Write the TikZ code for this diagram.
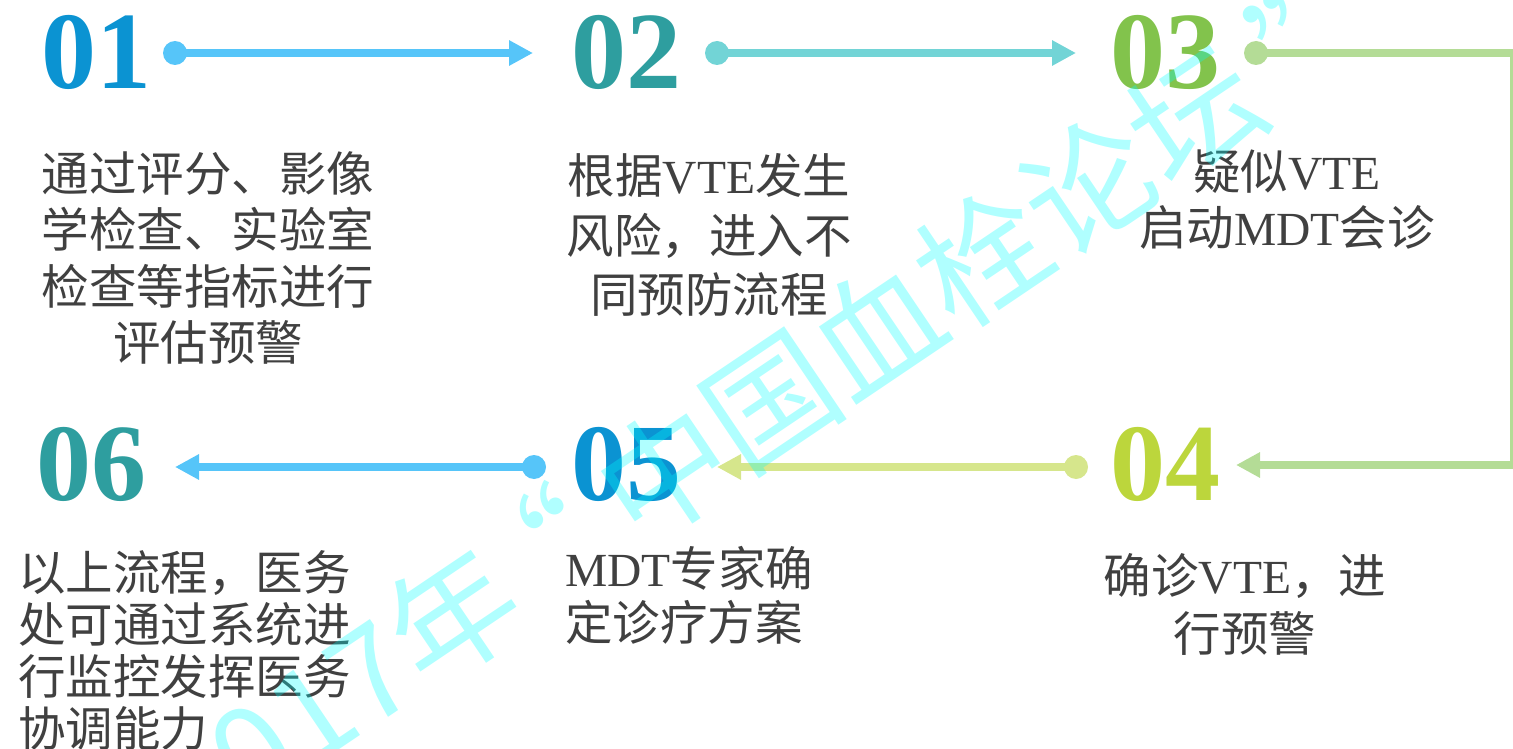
\documentclass[tikz,border=0pt]{standalone}
\usepackage{fontspec}
\setmainfont{Liberation Serif}
\newfontfamily\cjk{Noto Sans CJK SC}
\usetikzlibrary{arrows.meta}
\definecolor{txt}{HTML}{404040}
\definecolor{cblue}{HTML}{0B93D2}
\definecolor{cteal}{HTML}{2E9E9F}
\definecolor{cgreen}{HTML}{82C34C}
\definecolor{cyell}{HTML}{BCD63C}
\definecolor{lblue}{HTML}{56C5F9}
\definecolor{lteal}{HTML}{72D4D6}
\definecolor{lgreen}{HTML}{B4DC96}
\definecolor{lyell}{HTML}{D6E68C}
\definecolor{wmark}{RGB}{0,255,255}
\newcommand\latn[1]{{\rmfamily #1}}
\begin{document}
\begin{tikzpicture}[x=1pt,y=-1pt,
  num/.style={anchor=base west, inner sep=0, font=\fontsize{110}{110}\selectfont\bfseries},
  body/.style={inner sep=0, text=txt, font=\cjk\fontsize{47.5}{#1}\selectfont},
  dot/.style={circle, fill=#1, minimum size=24pt, inner sep=0},
  link/.style={draw=#1, line width=8pt, -{Triangle[length=24pt,width=24pt]}},
  bar/.style={draw=#1, line width=8pt}
]
\path[use as bounding box] (0,0) rectangle (1513,749);
\clip (0,0) rectangle (1513,749);

% digits
\node[num, text=cblue]  (n01) at (41,89)   {01};
\node[num, text=cteal]  (n02) at (571,89)  {02};
\node[num, text=cgreen] (n03) at (1110,89) {03};
\node[num, text=cyell]  (n04) at (1110,500) {04};
\node[num, text=cblue]  (n05) at (571,500) {05};
\node[num, text=cteal]  (n06) at (36,500)  {06};

% dots and tips
\node[dot=lblue]  (d1) at (175,53) {};
\node[dot=lteal]  (d2) at (717,53) {};
\node[dot=lgreen] (d3) at (1256,53) {};
\node[dot=lyell]  (d4) at (1076,467) {};
\node[dot=lblue]  (d5) at (534,467) {};
\coordinate (t1) at (533,53);
\coordinate (t2) at (1076,53);
\coordinate (c3a) at (1513,53);
\coordinate (c3b) at (1511.5,53);
\coordinate (c3c) at (1511.5,465);
\coordinate (c3d) at (1513,465);
\coordinate (t3) at (1236,465);
\coordinate (t4) at (717,467);
\coordinate (t5) at (175,467);

\draw[link=lblue] (d1.center) -- (t1);
\draw[link=lteal] (d2.center) -- (t2);
\draw[bar=lgreen] (d3.center) -- (c3a);
\draw[draw=lgreen, line width=3pt] (c3b) -- (c3c);
\draw[link=lgreen] (c3d) -- (t3);
\draw[link=lyell] (d4.center) -- (t4);
\draw[link=lblue] (d5.center) -- (t5);

% texts
\node[body=56.5, align=center, anchor=north] (b1) at (208,151)
  {通过评分、影像\\学检查、实验室\\检查等指标进行\\评估预警};
\node[body=59.5, align=center, anchor=north] (b2) at (709,153.5)
  {根据\latn{VTE}发生\\风险，进入不\\同预防流程};
\node[body=56, align=center, anchor=north] (b3) at (1287,149.5)
  {疑似\latn{VTE}\\启动\latn{MDT}会诊};
\node[body=58, align=center, anchor=north] (b4) at (1245,553.5)
  {确诊\latn{VTE}，进\\行预警};
\node[body=54, align=left, anchor=north west] (b5) at (565,546.5)
  {\latn{MDT}专家确\\定诊疗方案};
\node[body=52, align=left, anchor=north west] (b6) at (18,550.5)
  {以上流程，医务\\处可通过系统进\\行监控发挥医务\\协调能力};

% watermark
\node[rotate=34, anchor=west, inner sep=0, text=wmark, opacity=0.31,
      font=\cjk\fontsize{128}{128}\selectfont] (wm) at (717,436)
  {\llap{2017年\makebox[1em][l]{\kern-0.25em “}中}国血栓论坛\makebox[1em][l]{\kern0.2em ”}};
\end{tikzpicture}
\end{document}
